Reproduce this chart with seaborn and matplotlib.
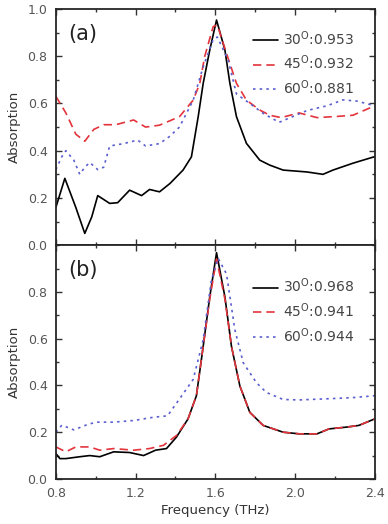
import numpy as np
import pandas as pd
import matplotlib
matplotlib.use("Agg")
import matplotlib.pyplot as plt
from matplotlib.ticker import MultipleLocator
import seaborn as sns

sns.set_style("ticks")
plt.rcParams['font.family'] = ['DejaVu Sans']

# panel (a)
a30_f = [0.80, 0.845, 0.90, 0.945, 0.98, 1.01, 1.07, 1.11, 1.17, 1.23, 1.27, 1.32, 1.372, 1.438, 1.48,
         1.514, 1.539, 1.572, 1.606, 1.648, 1.673, 1.706, 1.756, 1.823, 1.873, 1.94, 2.06, 2.14, 2.19,
         2.29, 2.40]
a30_v = [0.16, 0.283, 0.16, 0.05, 0.12, 0.21, 0.177, 0.18, 0.233, 0.21, 0.236, 0.226, 0.261, 0.318, 0.374,
         0.544, 0.685, 0.826, 0.953, 0.826, 0.685, 0.544, 0.431, 0.36, 0.339, 0.318, 0.31, 0.30, 0.318,
         0.347, 0.375]
a45_f = [0.80, 0.85, 0.90, 0.945, 0.99, 1.04, 1.10, 1.19, 1.25, 1.32, 1.42, 1.489, 1.522, 1.547, 1.589,
         1.610, 1.656, 1.706, 1.756, 1.823, 1.873, 1.93, 2.02, 2.11, 2.21, 2.29, 2.40]
a45_v = [0.63, 0.56, 0.47, 0.44, 0.49, 0.51, 0.51, 0.53, 0.50, 0.508, 0.544, 0.614, 0.685, 0.80, 0.925,
         0.932, 0.812, 0.685, 0.614, 0.572, 0.55, 0.54, 0.56, 0.54, 0.545, 0.55, 0.59]
a60_f = [0.80, 0.83, 0.85, 0.89, 0.92, 0.945, 0.97, 1.01, 1.04, 1.07, 1.14, 1.21, 1.25, 1.32, 1.37,
         1.42, 1.489, 1.539, 1.589, 1.610, 1.664, 1.706, 1.773, 1.84, 1.92, 1.99, 2.06, 2.16, 2.24,
         2.31, 2.40]
a60_v = [0.32, 0.375, 0.40, 0.36, 0.30, 0.33, 0.35, 0.32, 0.33, 0.42, 0.43, 0.445, 0.42, 0.43, 0.46,
         0.50, 0.614, 0.755, 0.87, 0.881, 0.784, 0.64, 0.60, 0.558, 0.52, 0.545, 0.57, 0.59, 0.615,
         0.61, 0.59]

# panel (b)
b30_f = [0.80, 0.82, 0.85, 0.92, 0.97, 1.02, 1.09, 1.17, 1.24, 1.30, 1.355, 1.405, 1.463, 1.505, 1.539,
         1.572, 1.606, 1.648, 1.681, 1.723, 1.773, 1.84, 1.94, 2.02, 2.11, 2.17, 2.26, 2.32, 2.40]
b30_v = [0.109, 0.087, 0.087, 0.095, 0.10, 0.095, 0.116, 0.113, 0.10, 0.123, 0.13, 0.179, 0.257, 0.356,
         0.567, 0.779, 0.968, 0.779, 0.567, 0.398, 0.285, 0.229, 0.20, 0.193, 0.193, 0.214, 0.222,
         0.229, 0.257]
b45_f = [0.80, 0.85, 0.90, 0.97, 1.02, 1.09, 1.19, 1.27, 1.34, 1.405, 1.463, 1.505, 1.539, 1.572, 1.606,
         1.648, 1.681, 1.723, 1.773, 1.84, 1.94, 2.02, 2.11, 2.17, 2.26, 2.32, 2.40]
b45_v = [0.137, 0.116, 0.137, 0.137, 0.123, 0.13, 0.123, 0.13, 0.144, 0.186, 0.257, 0.356, 0.567, 0.77,
         0.941, 0.77, 0.567, 0.398, 0.285, 0.229, 0.20, 0.193, 0.193, 0.214, 0.222, 0.229, 0.257]
b60_f = [0.80, 0.83, 0.89, 0.95, 1.00, 1.09, 1.19, 1.29, 1.36, 1.42, 1.489, 1.539, 1.58, 1.614, 1.656,
         1.698, 1.74, 1.806, 1.856, 1.94, 2.02, 2.19, 2.29, 2.40]
b60_v = [0.20, 0.23, 0.21, 0.23, 0.243, 0.243, 0.25, 0.264, 0.27, 0.342, 0.426, 0.596, 0.85, 0.944,
         0.877, 0.638, 0.497, 0.412, 0.37, 0.34, 0.338, 0.344, 0.348, 0.356]

labels_a = ["30$^{\\mathrm{O}}$:0.953", "45$^{\\mathrm{O}}$:0.932", "60$^{\\mathrm{O}}$:0.881"]
labels_b = ["30$^{\\mathrm{O}}$:0.968", "45$^{\\mathrm{O}}$:0.941", "60$^{\\mathrm{O}}$:0.944"]

colors = ["black", "#e3343c", "#5a5fd0"]
styles = ["-", (0, (5, 3)), (0, (1.5, 2.5))]

fig = plt.figure(figsize=(3.88, 5.24), dpi=100)
ax1 = fig.add_axes([0.144, 0.532, 0.822, 0.451])
ax2 = fig.add_axes([0.144, 0.086, 0.822, 0.446])


def draw(ax, series, labels, tag, leg_y):
    for (f, v), lab, c, ls in zip(series, labels, colors, styles):
        df = pd.DataFrame({"f": f, "v": v})
        sns.lineplot(data=df, x="f", y="v", ax=ax, color=c, linestyle=ls, lw=1.2, label=lab)
    ax.set_xlim(0.8, 2.4)
    ax.set_ylim(0, 1.0)
    ax.xaxis.set_major_locator(MultipleLocator(0.4))
    ax.xaxis.set_minor_locator(MultipleLocator(0.2))
    ax.yaxis.set_major_locator(MultipleLocator(0.2))
    ax.yaxis.set_minor_locator(MultipleLocator(0.1))
    ax.tick_params(which="both", direction="in", top=True, right=True, labelsize=9, width=1,
                   colors="#333333", labelcolor="#555555")
    ax.tick_params(which="major", length=4, pad=6)
    ax.tick_params(which="minor", length=2.5)
    for s in ax.spines.values():
        s.set_linewidth(1.3)
    ax.set_ylabel("Absorption", fontsize=9.5, labelpad=5, color="#333333")
    ax.text(0.04, 0.935, tag, transform=ax.transAxes, fontsize=15, va="top", color="#222222")
    leg = ax.legend(loc="upper left", bbox_to_anchor=(0.617, leg_y), frameon=False, fontsize=10,
                    handlelength=1.8, handletextpad=0.35, labelspacing=0.45,
                    borderpad=0, borderaxespad=0)
    for t in leg.get_texts():
        t.set_color("#444444")


draw(ax1, [(a30_f, a30_v), (a45_f, a45_v), (a60_f, a60_v)], labels_a, "(a)", 0.915)
draw(ax2, [(b30_f, b30_v), (b45_f, b45_v), (b60_f, b60_v)], labels_b, "(b)", 0.865)
ax1.set_xlabel("")
ax1.tick_params(labelbottom=False)
ax2.set_yticks([0.0, 0.2, 0.4, 0.6, 0.8])
ax2.set_xlabel("Frequency (THz)", fontsize=9.5, labelpad=3, color="#333333")

fig.savefig("out.png", dpi=100)
